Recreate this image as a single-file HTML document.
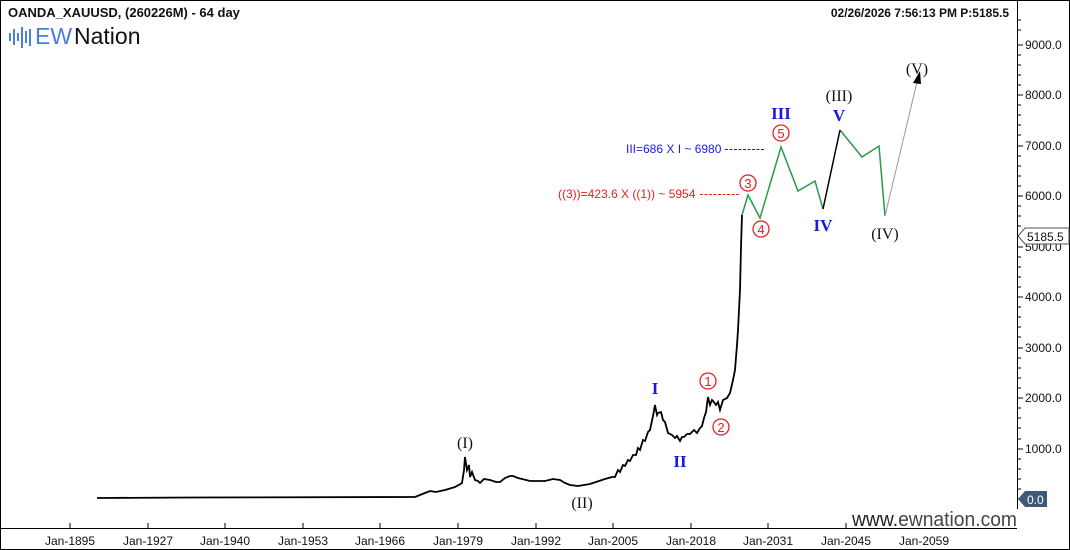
<!DOCTYPE html>
<html><head><meta charset="utf-8"><style>
body{margin:0;background:#fff;}
svg{display:block;font-family:"Liberation Sans",sans-serif;}
.t{font-family:"Liberation Serif",serif;font-weight:bold;fill:#1a1ae6;font-size:17px;text-anchor:middle}
.k{font-family:"Liberation Serif",serif;fill:#111;font-size:16px;text-anchor:middle}
.r{fill:none;stroke:#e82020;stroke-width:1.3}
.rt{fill:#e82020;font-size:13px;text-anchor:middle}
.ax{font-size:12px;fill:#111}
</style></head><body>
<svg width="1070" height="550" viewBox="0 0 1070 550">
<rect x="0.5" y="0.5" width="1069" height="549" fill="#fff" stroke="#000"/>
<line x1="1017.5" y1="0" x2="1017.5" y2="512" stroke="#000"/>
<line x1="0" y1="528.5" x2="1017" y2="528.5" stroke="#000"/>
<text x="8" y="17" font-size="13" font-weight="bold" fill="#111">OANDA_XAUUSD, (260226M) - 64 day</text>
<text x="1009" y="17" font-size="12" font-weight="bold" fill="#111" text-anchor="end">02/26/2026 7:56:13 PM  P:5185.5</text>
<g stroke="#4a7fe0" stroke-width="2">
<line x1="10" y1="33" x2="10" y2="41"/><line x1="14" y1="29" x2="14" y2="45"/><line x1="18" y1="33" x2="18" y2="41"/>
<line x1="22" y1="27" x2="22" y2="48"/><line x1="26" y1="31" x2="26" y2="43"/><line x1="30" y1="29" x2="30" y2="46"/></g>
<text x="35" y="44" font-size="23" fill="#4a7fe0">EW</text>
<text x="74" y="44" font-size="23" fill="#111">Nation</text>
<g class="ax">
<text x="1025" y="49">9000.0</text><text x="1025" y="99">8000.0</text><text x="1025" y="150">7000.0</text>
<text x="1025" y="200">6000.0</text><text x="1025" y="251">5000.0</text><text x="1025" y="301">4000.0</text>
<text x="1025" y="352">3000.0</text><text x="1025" y="402">2000.0</text><text x="1025" y="453">1000.0</text>
</g>
<g stroke="#000">
<path d="M1017 45h6M1017 95h6M1017 146h6M1017 196h6M1017 247h6M1017 297h6M1017 348h6M1017 398h6M1017 449h6M1017 499h6"/>
<path d="M1017 20h4M1017 30h4M1017 55h4M1017 65h4M1017 75h4M1017 85h4M1017 105h4M1017 115h4M1017 125h4M1017 135h4M1017 156h4M1017 166h4M1017 176h4M1017 186h4M1017 206h4M1017 216h4M1017 226h4M1017 257h4M1017 267h4M1017 277h4M1017 287h4M1017 307h4M1017 317h4M1017 327h4M1017 337h4M1017 358h4M1017 368h4M1017 378h4M1017 388h4M1017 408h4M1017 418h4M1017 428h4M1017 439h4M1017 459h4M1017 469h4M1017 479h4M1017 489h4"/>
<path d="M70 528v-5M148 528v-5M225 528v-5M303 528v-5M380 528v-5M458 528v-5M536 528v-5M613 528v-5M691 528v-5M768 528v-5M846 528v-5M924 528v-5M1009 528v-5"/>
</g>
<g class="ax" text-anchor="middle">
<text x="70" y="545">Jan-1895</text><text x="148" y="545">Jan-1927</text><text x="225" y="545">Jan-1940</text>
<text x="303" y="545">Jan-1953</text><text x="380" y="545">Jan-1966</text><text x="458" y="545">Jan-1979</text>
<text x="536" y="545">Jan-1992</text><text x="613" y="545">Jan-2005</text><text x="691" y="545">Jan-2018</text>
<text x="768" y="545">Jan-2031</text><text x="846" y="545">Jan-2045</text><text x="924" y="545">Jan-2059</text>
</g>
<path d="M1018 236l7-8h44v16h-44z" fill="#fff" stroke="#555"/>
<text x="1027" y="241" font-size="12" fill="#111">5185.5</text>
<path d="M1018 499l7-8h22v16h-22z" fill="#3d5a78"/>
<text x="1027" y="504" font-size="12" fill="#fff">0.0</text>
<rect x="850" y="509" width="168" height="19" fill="#fff"/>
<text x="852" y="526" font-size="20" fill="#222" textLength="165" lengthAdjust="spacingAndGlyphs">www.<tspan fill="#444">ewnation.com</tspan></text>
<polyline fill="none" stroke="#000" stroke-width="1.8" points="97,498 190,497.5 415,497 420,495 425,493 430,491 436,492 445,490 455,487 462,483 464,470 465,457 467,470 469,465 470,477 472,472 475,480 478,481 480,483 484,479 490,480 496,482 500,482 505,478 510,476 513,476 518,478 522,479 530,481 545,481 553,479 560,480 565,483 570,485 578,486 590,484 605,479 612,477 615,477 618,470 620,472 623,465 625,466 628,460 630,461 633,455 636,455 638,448 640,450 643,440 645,441 648,432 650,430 653,416 655,405 657,415 658,413 661,412 663,420 665,422 668,433 672,435 675,438 677,436 680,441 682,437 684,437 687,434 690,434 694,430 697,433 700,428 702,426 704,418 706,412 708,397 710,405 712,400 713,401 716,405 718,402 720,410 723,400 727,398 730,393 733,380 735,370 737,345 738,330 739,310 740,290 741,247 742,215"/>
<polyline fill="none" stroke="#2a9a4a" stroke-width="1.5" points="742,215 748,195 760,218 781,147 798,191 815,181 823,209"/>
<polyline fill="none" stroke="#2a9a4a" stroke-width="1.5" points="840,130 862,157 879,146 885,216"/>
<line x1="823" y1="209" x2="840" y2="130" stroke="#000" stroke-width="1.5"/>
<line x1="885" y1="216" x2="917" y2="82" stroke="#999" stroke-width="1"/>
<path d="M920 71l-7 12 8 1z" fill="#000"/>
<text class="k" x="465" y="448">(I)</text>
<text class="k" x="582" y="508">(II)</text>
<text class="k" x="839" y="101">(III)</text>
<text class="k" x="885" y="239">(IV)</text>
<text class="k" x="917" y="74">(V)</text>
<text class="t" x="655" y="394">I</text>
<text class="t" x="680" y="467">II</text>
<text class="t" x="781" y="119">III</text>
<text class="t" x="823" y="231">IV</text>
<text class="t" x="839" y="121">V</text>
<circle class="r" cx="708" cy="381" r="8"/><text class="rt" x="708" y="386">1</text>
<circle class="r" cx="721" cy="427" r="8"/><text class="rt" x="721" y="432">2</text>
<circle class="r" cx="748" cy="183" r="8"/><text class="rt" x="748" y="188">3</text>
<circle class="r" cx="761" cy="229" r="8"/><text class="rt" x="761" y="234">4</text>
<circle class="r" cx="781" cy="133" r="8"/><text class="rt" x="781" y="138">5</text>
<text x="626" y="153" font-size="12" fill="#1a1ae6">III=686 X I ~ 6980</text>
<line x1="725" y1="149.5" x2="765" y2="149.5" stroke="#1a1ae6" stroke-dasharray="3,1.5"/>
<text x="558" y="198" font-size="12" fill="#e82020">((3))=423.6 X ((1)) ~ 5954</text>
<line x1="700" y1="194.5" x2="739" y2="194.5" stroke="#e82020" stroke-dasharray="3,1.5"/>
</svg>
</body></html>
